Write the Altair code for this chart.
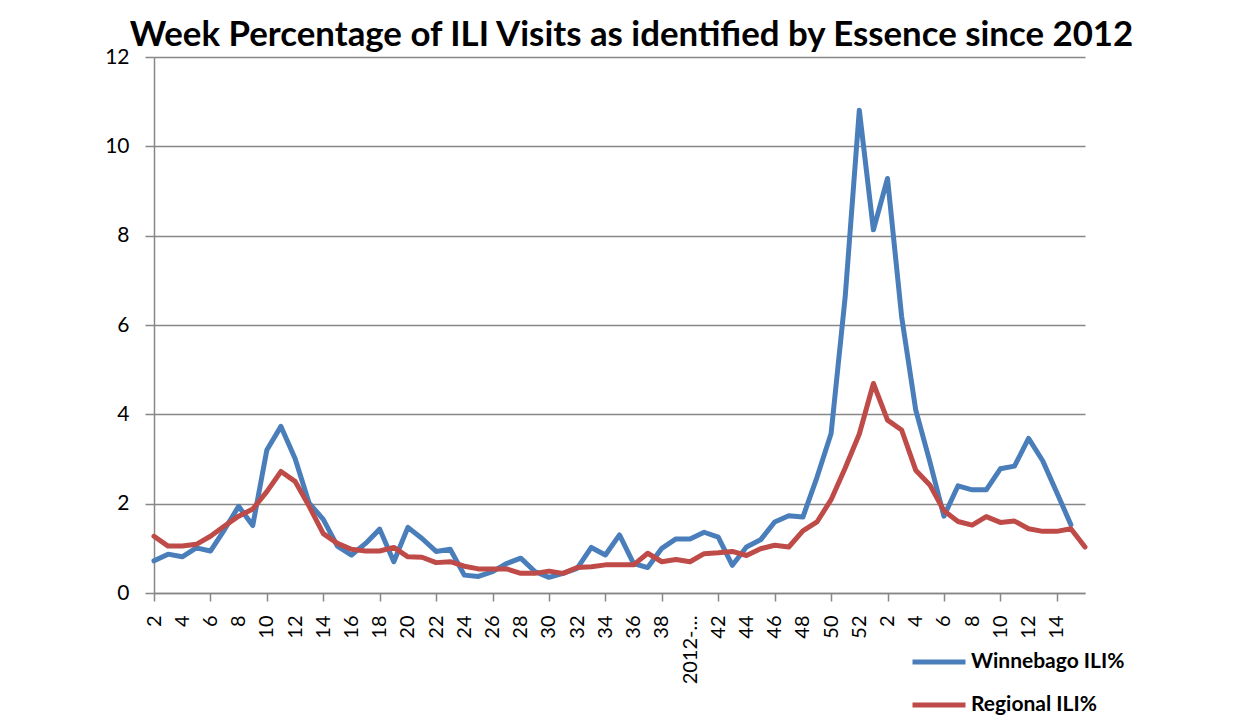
import json
import altair as alt
import pandas as pd

# Category labels (weeks 2..52 of 2012, then weeks 1..16 of 2013)
categories = [
    "2", "3", "4", "5", "6", "7", "8", "9", "10", "11", "12", "13", "14", "15",
    "16", "17", "18", "19", "20", "21", "22", "23", "24", "25", "26", "27", "28",
    "29", "30", "31", "32", "33", "34", "35", "36", "37", "38", "39", "2012-…",
    "41", "42", "43", "44", "45", "46", "47", "48", "49", "50", "51", "52",
    "1", "2", "3", "4", "5", "6", "7", "8", "9", "10", "11", "12", "13", "14",
    "15", "16",
]

winnebago = [
    0.72, 0.87, 0.81, 1.01, 0.94, 1.42, 1.94, 1.51, 3.20, 3.73, 3.01, 2.01, 1.65,
    1.05, 0.85, 1.11, 1.43, 0.70, 1.47, 1.22, 0.93, 0.98, 0.40, 0.37, 0.48, 0.66,
    0.78, 0.48, 0.35, 0.44, 0.55, 1.02, 0.85, 1.30, 0.66, 0.57, 1.00, 1.21, 1.21,
    1.36, 1.25, 0.62, 1.03, 1.19, 1.59, 1.73, 1.70, 2.59, 3.57, 6.63, 10.81,
    8.13, 9.28, 6.19, 4.10, 2.94, 1.72, 2.40, 2.31, 2.31, 2.78, 2.84, 3.46, 2.96,
    2.25, 1.53, None,
]

regional = [
    1.27, 1.05, 1.05, 1.09, 1.27, 1.50, 1.72, 1.88, 2.27, 2.72, 2.50, 1.94, 1.33,
    1.11, 0.98, 0.94, 0.94, 1.02, 0.81, 0.80, 0.68, 0.70, 0.60, 0.54, 0.54, 0.54,
    0.44, 0.44, 0.49, 0.44, 0.57, 0.59, 0.63, 0.63, 0.63, 0.89, 0.70, 0.75, 0.70,
    0.88, 0.90, 0.93, 0.84, 0.99, 1.07, 1.03, 1.39, 1.59, 2.09, 2.80, 3.56,
    4.69, 3.87, 3.65, 2.75, 2.42, 1.84, 1.60, 1.52, 1.71, 1.58, 1.61, 1.44, 1.38,
    1.38, 1.44, 1.03,
]

series_names = ["Winnebago ILI%", "Regional ILI%"]
series_colors = ["#4A7EBB", "#BE4B48"]
y_ticks = [0, 2, 4, 6, 8, 10, 12]
title_text = "Week Percentage of ILI Visits as identified by Essence since 2012"

df = pd.DataFrame({
    "idx": list(range(len(categories))),
    "week": categories,
    "Winnebago ILI%": winnebago,
    "Regional ILI%": regional,
})

n = len(categories)
label_js = json.dumps(categories, ensure_ascii=False)
grey = "#878787"

chart = (
    alt.Chart(df)
    .transform_fold(series_names, as_=["series", "value"])
    .mark_line(strokeWidth=5, strokeJoin="round", strokeCap="round")
    .encode(
        x=alt.X(
            "idx:Q",
            scale=alt.Scale(domain=[0, n - 1], nice=False, zero=False),
            axis=alt.Axis(
                values=list(range(0, n - 1, 2)),
                labelExpr=f"{label_js}[datum.value]",
                labelAngle=270,
                labelFont="Lato",
                labelFontSize=20,
                labelColor="#000000",
                labelPadding=14,
                labelFlush=False,
                labelOverlap=False,
                tickSize=8,
                tickWidth=1.5,
                tickColor=grey,
                tickOpacity={"condition": {"test": "datum.value % 4 === 0", "value": 1}, "value": 0},
                domainColor=grey,
                domainWidth=1.5,
                grid=False,
                title=None,
            ),
        ),
        y=alt.Y(
            "value:Q",
            scale=alt.Scale(domain=[0, 12], nice=False),
            axis=alt.Axis(
                values=y_ticks,
                grid=True,
                gridColor=grey,
                gridWidth=1.5,
                tickSize=9,
                tickWidth=1.5,
                tickColor=grey,
                domainColor=grey,
                domainWidth=1.5,
                labelFont="Lato",
                labelFontSize=21,
                labelColor="#000000",
                labelPadding=16,
                title=None,
            ),
        ),
        color=alt.Color(
            "series:N",
            scale=alt.Scale(domain=series_names, range=series_colors),
            legend=alt.Legend(
                orient="none",
                legendX=756,
                legendY=595,
                title=None,
                symbolType="stroke",
                symbolSize=2809,
                symbolStrokeWidth=5,
                labelFont="Lato",
                labelFontSize=21,
                labelFontWeight="bold",
                labelColor="#000000",
                labelOffset=3,
                labelLimit=400,
                rowPadding=22,
                clipHeight=20,
                padding=0,
            ),
        ),
    )
    .properties(
        width=931,
        height=536,
        autosize=alt.AutoSizeParams(type="none"),
        padding={"left": 146, "top": 49, "right": 150, "bottom": 128},
        title=alt.TitleParams(
            text=title_text,
            font="Lato",
            fontSize=34.8,
            fontWeight="bold",
            color="#000000",
            anchor="middle",
            frame="group",
            dx=12,
            dy=12,
            offset=4,
        ),
    )
    .configure_view(strokeWidth=0)
)

chart.save("out.html", embed_options={"renderer": "svg", "actions": False})
